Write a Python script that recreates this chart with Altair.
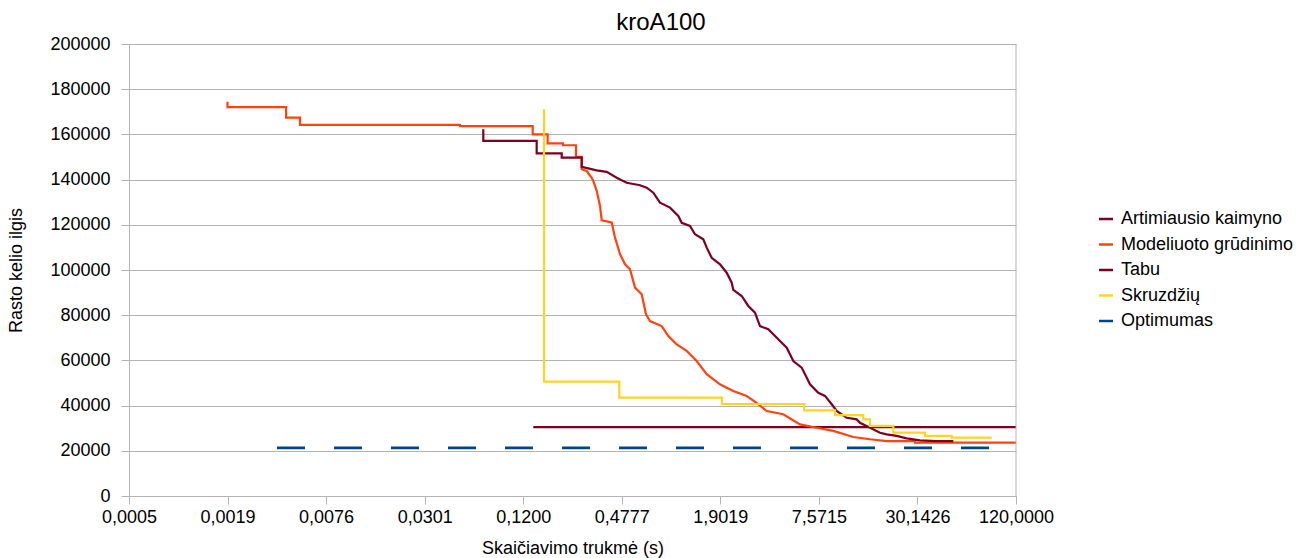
import altair as alt
import pandas as pd

series_names = ["Artimiausio kaimyno", "Modeliuoto grūdinimo", "Tabu", "Skruzdžių", "Optimumas"]
series_colors = ["#7e0021", "#ff420e", "#7e0021", "#ffd320", "#004586"]

# Artimiausio kaimyno (step values)
nn_time = [0.1382, 120.0]
nn_len = [30500, 30500]

# Modeliuoto grūdinimo (path vertices)
sa_time = [0.0019, 0.0019, 0.00432, 0.00432, 0.00525, 0.00525, 0.0494, 0.0494, 0.137, 0.137,
           0.169, 0.169, 0.2095, 0.2095, 0.2513, 0.2513, 0.2724, 0.2724, 0.2921, 0.3133,
           0.3204, 0.3361, 0.3521, 0.3605, 0.4148, 0.4345, 0.4660, 0.4998, 0.5361, 0.5751,
           0.6316, 0.6707, 0.7096, 0.8360, 0.9171, 1.0316, 1.1867, 1.3655, 1.5712, 1.8934,
           2.2812, 2.7532, 3.2380, 3.6434, 4.5973, 5.8102, 7.3434, 9.2664, 12.265, 15.50,
           19.59, 29.13, 29.13, 120.0]
sa_len = [174500, 172100, 172100, 167400, 167400, 164200, 164200, 163700, 163700, 160000,
          160000, 156000, 156000, 155200, 155200, 150100, 150100, 144600, 143800, 140800,
          139400, 135000, 128300, 122000, 121000, 114300, 107000, 102500, 100300, 92200,
          89300, 80400, 77400, 75200, 70800, 67100, 64200, 59700, 53900, 49400,
          46500, 44300, 40600, 37600, 36200, 31700, 30200, 28800, 26100, 25100,
          24300, 24300, 23600, 23600]

# Tabu (path vertices)
tabu_time = [0.06857, 0.06857, 0.1449, 0.1449, 0.2058, 0.2058, 0.2723, 0.2723, 0.3361, 0.3867,
             0.4450, 0.5118, 0.6167, 0.6775, 0.7432, 0.8163, 0.9393, 1.0551, 1.1066, 1.2431,
             1.3335, 1.4979, 1.5712, 1.6848, 1.8934, 2.0790, 2.2307, 2.2812, 2.5665, 2.8140,
             3.0917, 3.3165, 3.7257, 4.3890, 4.8228, 5.2895, 5.9485, 6.6853, 7.5077, 8.2483,
             9.0606, 9.7185, 11.182, 12.863, 13.474, 15.50, 17.832, 19.59, 22.54, 25.93,
             31.24, 39.48, 49.84]
tabu_len = [162300, 157100, 157100, 151600, 151600, 149700, 149700, 145600, 144100, 143400,
            140800, 138600, 137500, 136400, 134200, 129800, 127600, 123900, 120900, 119500,
            115800, 113600, 109900, 105400, 102500, 98800, 94400, 91200, 88500, 84100,
            81100, 75200, 73800, 68600, 65600, 59700, 56800, 49400, 45700, 44300,
            40600, 37600, 34600, 33900, 32400, 30200, 28000, 27300, 26600, 25500,
            24600, 24300, 24300]

# Skruzdžių (step values)
aco_time = [0.1606, 0.1606, 0.4613, 1.9468, 6.1632, 9.491, 14.11, 15.50, 21.49, 33.51, 48.72, 85.36]
aco_len = [171100, 50600, 43500, 40700, 37900, 35800, 33900, 31000, 28000, 26600, 25800, 25800]

# Optimumas
opt_time = [0.003803, 120.0]
opt_len = [21282, 21282]

x_ticks = [0.00047773, 0.0019019, 0.0075715, 0.030143, 0.12, 0.47773, 1.90187, 7.5715, 30.1426, 120.0]
y_ticks = [0, 20000, 40000, 60000, 80000, 100000, 120000, 140000, 160000, 180000, 200000]

rows = []
for name, ts, vs in [(series_names[0], nn_time, nn_len), (series_names[1], sa_time, sa_len),
                     (series_names[2], tabu_time, tabu_len), (series_names[3], aco_time, aco_len),
                     (series_names[4], opt_time, opt_len)]:
    for i, (t, v) in enumerate(zip(ts, vs)):
        rows.append({"series": name, "time": t, "length": v, "idx": i})
df = pd.DataFrame(rows)

FONT = "Liberation Sans"

color = alt.Color(
    "series:N",
    scale=alt.Scale(domain=series_names, range=series_colors),
    legend=alt.Legend(
        title=None, orient="none", legendX=968, legendY=166,
        symbolType="stroke", symbolStrokeWidth=2.5, symbolSize=196,
        labelFontSize=18, labelFont=FONT, labelColor="#000000",
        labelOffset=6, rowPadding=7.5, labelLimit=400,
    ),
)
x = alt.X(
    "time:Q",
    scale=alt.Scale(type="log", domain=[x_ticks[0], x_ticks[-1]], nice=False),
    axis=alt.Axis(values=x_ticks, labelExpr="replace(format(datum.value, '.4f'), '.', ',')",
                  title="Skaičiavimo trukmė (s)", grid=False, labelFlush=False),
)
y = alt.Y(
    "length:Q",
    scale=alt.Scale(domain=[0, 200000], nice=False),
    axis=alt.Axis(values=y_ticks, format="d", title="Rasto kelio ilgis", grid=True),
)

base = alt.Chart(df)
interp = {series_names[0]: "step-after", series_names[1]: "linear",
          series_names[2]: "linear", series_names[3]: "step-after"}
layers = []
for name in series_names[:4]:
    layers.append(
        base.transform_filter(alt.datum.series == name)
        .mark_line(interpolate=interp[name], strokeWidth=2.2)
        .encode(x=x, y=y, color=color, order="idx:Q")
    )
layers.append(
    base.transform_filter(alt.datum.series == series_names[4])
    .mark_line(strokeWidth=2.6, strokeDash=[28, 29])
    .encode(x=x, y=y, color=color, order="idx:Q")
)
border = alt.Chart(pd.DataFrame({"time": [120.0], "y0": [0], "y1": [200000]})).mark_rule(
    color="#b3b3b3", strokeWidth=1
).encode(x=alt.X("time:Q"), y=alt.Y("y0:Q"), y2="y1:Q")

chart = alt.layer(*layers, border).properties(
    width=887, height=452,
    padding={"left": 7, "top": 11, "right": 5, "bottom": 5},
    title=alt.TitleParams("kroA100", fontSize=24, font=FONT, fontWeight="normal",
                          color="#000000", anchor="middle", frame="bounds", offset=0, dx=10),
).configure_view(stroke=None).configure_axis(
    labelFont=FONT, labelFontSize=18, labelColor="#000000",
    titleFont=FONT, titleFontSize=18, titleFontWeight="normal", titleColor="#000000",
    domainColor="#b3b3b3", tickColor="#b3b3b3", gridColor="#b3b3b3",
    tickSize=8, labelPadding=4,
).configure_axisY(titlePadding=24, labelPadding=11).configure_axisX(titlePadding=13)

chart.save("out.html", embed_options={"renderer": "svg", "actions": False})
